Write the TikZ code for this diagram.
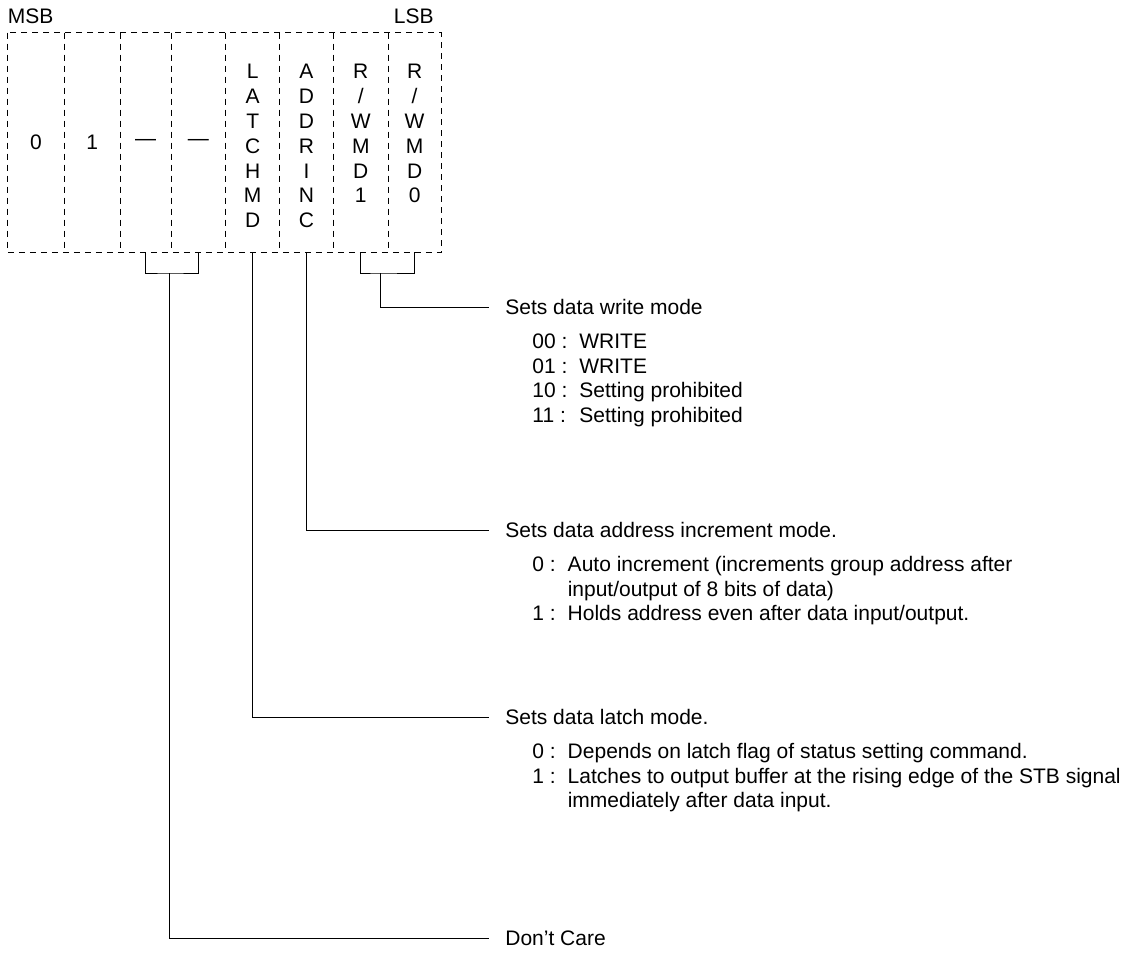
\documentclass[tikz,border=0pt]{standalone}
\usepackage{fontspec}
\setmainfont{Liberation Sans}
\usetikzlibrary{positioning}

\begin{document}
\begin{tikzpicture}[x=0.5pt, y=-0.5pt,
  font=\fontsize{10.5}{12.4}\selectfont,
  bitcell/.style={rectangle, inner sep=0pt, minimum height=109.5pt},
  vlabel/.style={inner sep=0pt, align=center},
  grid/.style={line width=0.5pt, dash pattern=on 3pt off 2.5pt},
  link/.style={line width=0.5pt},
  tolabel/.style={link, shorten >=8pt},
  heading/.style={inner sep=0pt, anchor=west},
  choices/.style={inner sep=0pt}]
\useasboundingbox (0,0) rectangle (1136,953);

% the eight bits of the command byte
\node (b7)[bitcell, minimum width=28pt] at (36,142.5) {0};
\node (b6)[bitcell, minimum width=27.5pt, right=0pt of b7] {1};
\node (b5)[bitcell, minimum width=25pt, right=0pt of b6] {---};
\node (b4)[bitcell, minimum width=27pt, right=0pt of b5] {---};
\node (b3)[bitcell, minimum width=26.5pt, right=0pt of b4] {};
\node (b2)[bitcell, minimum width=26.5pt, right=0pt of b3] {};
\node (b1)[bitcell, minimum width=27pt, right=0pt of b2] {};
\node (b0)[bitcell, minimum width=26pt, right=0pt of b1] {};

\node (lbl3)[vlabel, below=15.75pt of b3.north] {L\\A\\T\\C\\H\\M\\D};
\node (lbl2)[vlabel, below=15.75pt of b2.north] {A\\D\\D\\R\\I\\N\\C};
\node (lbl1)[vlabel, below=15.75pt of b1.north] {R\\/\\W\\M\\D\\1};
\node (lbl0)[vlabel, below=15.75pt of b0.north] {R\\/\\W\\M\\D\\0};

\node (msb)[inner sep=0pt, above right=4pt and 0pt of b7.north west] {MSB};
\node (lsb)[inner sep=0pt, above left=4pt and 3.5pt of b0.north east] {LSB};

\draw[grid] (b7.north west) rectangle (b0.south east);
\draw[grid] (b6.north west) -- (b6.south west);
\draw[grid] (b5.north west) -- (b5.south west);
\draw[grid] (b4.north west) -- (b4.south west);
\draw[grid] (b3.north west) -- (b3.south west);
\draw[grid] (b2.north west) -- (b2.south west);
\draw[grid] (b1.north west) -- (b1.south west);
\draw[grid] (b0.north west) -- (b0.south west);

% explanations
\node (wrmode)[heading] at (505,307) {Sets data write mode};
\node (wrlist)[choices, below right=7.75pt and 13.5pt of wrmode.south west] {%
  \begin{tabular}{@{}l@{\hspace{6pt}}l@{}}
  00 : & WRITE\\
  01 : & WRITE\\
  10 : & Setting prohibited\\
  11 : & Setting prohibited
  \end{tabular}};

\node (incmode)[heading] at (505,530) {Sets data address increment mode.};
\node (inclist)[choices, below right=7.75pt and 13.5pt of incmode.south west] {%
  \begin{tabular}{@{}l@{\hspace{6pt}}l@{}}
  0 : & Auto increment (increments group address after\\
      & input/output of 8 bits of data)\\
  1 : & Holds address even after data input/output.
  \end{tabular}};

\node (latch)[heading] at (505,717) {Sets data latch mode.};
\node (latchlist)[choices, below right=7.75pt and 13.5pt of latch.south west] {%
  \begin{tabular}{@{}l@{\hspace{6pt}}l@{}}
  0 : & Depends on latch flag of status setting command.\\
  1 : & Latches to output buffer at the rising edge of the STB signal\\
      & immediately after data input.
  \end{tabular}};

\node (dcare)[heading] at (505,938) {Don’t Care};

% connectors
\coordinate (wm) at (380,273);
\coordinate (dc) at (169,273);

\draw[link] (b1.south) |- (wm) -| (b0.south);
\draw[tolabel] (wm) |- (wrmode);
\draw[tolabel] (b2.south) |- (incmode);
\draw[tolabel] (b3.south) |- (latch);
\draw[link] (b5.south) |- (dc) -| (b4.south);
\draw[tolabel] (dc) |- (dcare);

\end{tikzpicture}
\end{document}
